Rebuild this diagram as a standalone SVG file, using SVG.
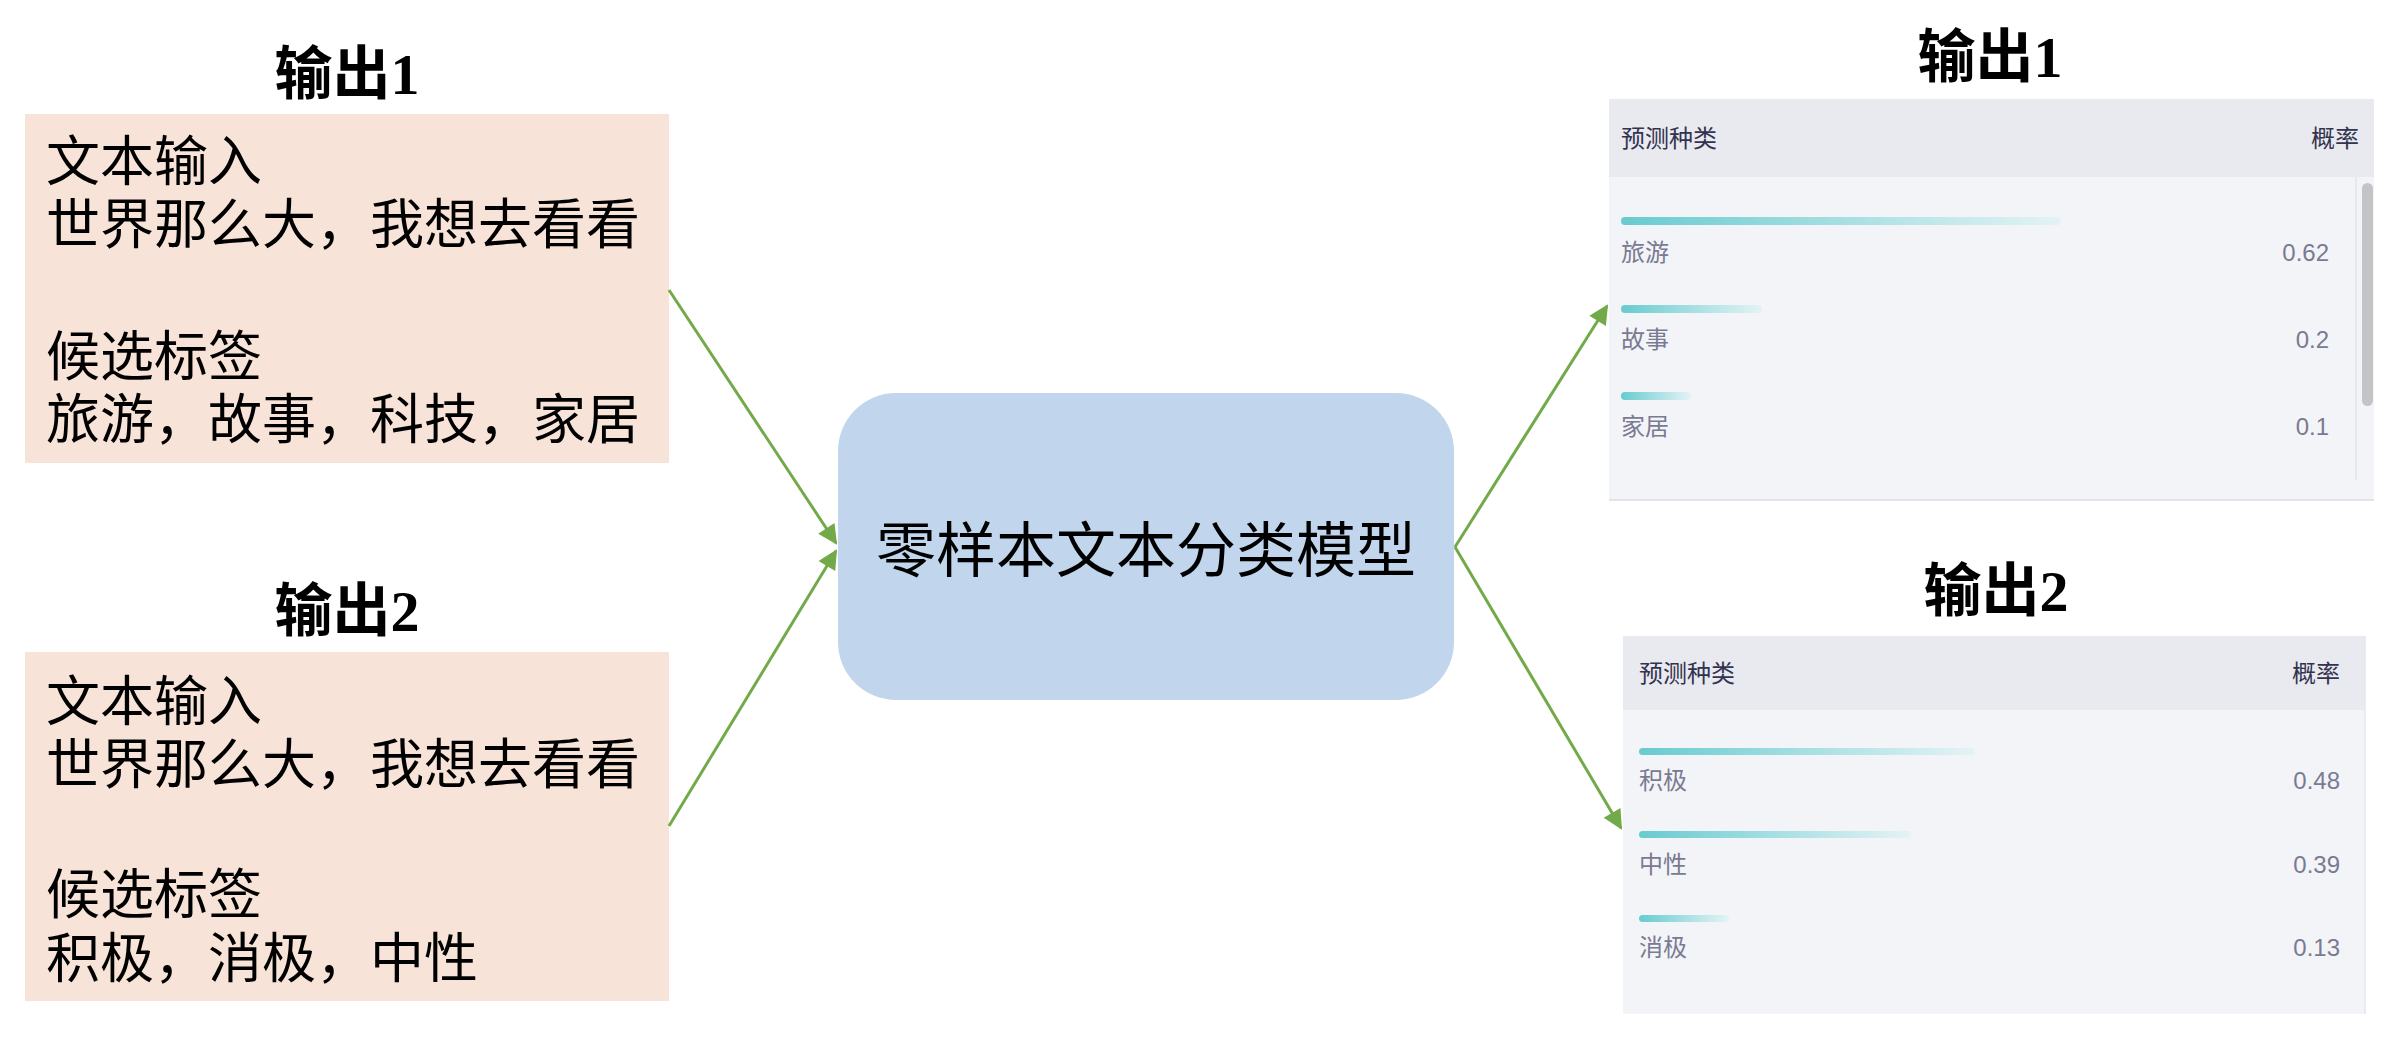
<svg xmlns="http://www.w3.org/2000/svg" width="2392" height="1046" viewBox="0 0 2392 1046">
<style>
.title{font-family:"Liberation Serif","Noto Sans CJK SC",serif;font-weight:bold;font-size:58px;fill:#000;text-anchor:middle}
.body{font-family:"Liberation Serif","Noto Sans CJK SC",serif;font-size:54px;fill:#000}
.center{font-family:"Liberation Serif","Noto Sans CJK SC",serif;font-size:60px;fill:#000;text-anchor:middle}
.hdr{font-family:"Liberation Sans","Noto Sans CJK SC",sans-serif;font-size:24px;fill:#33334f}
.row{font-family:"Liberation Sans","Noto Sans CJK SC",sans-serif;font-size:24px;fill:#7a7a92}
.num{font-family:"Liberation Sans","Noto Sans CJK SC",sans-serif;font-size:24px;fill:#7a7a92;text-anchor:end}
.conn{stroke:#72aa4a;stroke-width:3;fill:none;marker-end:url(#ah)}
</style>
<defs>
<marker id="ah" viewBox="0 0 10 10" refX="9" refY="5" markerWidth="7.5" markerHeight="6.5" markerUnits="strokeWidth" orient="auto">
<path d="M0,0 L10,5 L0,10 z" fill="#72aa4a"/>
</marker>
<linearGradient id="bar" x1="0" y1="0" x2="1" y2="0">
<stop offset="0" stop-color="#68cbcf"/>
<stop offset="1" stop-color="#e4f3f5"/>
</linearGradient>
</defs>
<rect width="2392" height="1046" fill="#fff"/>

<g id="input1">
<text class="title" x="347" y="94">输出1</text>
<rect x="25" y="114" width="644" height="349" fill="#f7e3d7"/>
<text class="body" x="46" y="181">文本输入</text>
<text class="body" x="46" y="244">世界那么大，我想去看看</text>
<text class="body" x="46" y="376">候选标签</text>
<text class="body" x="46" y="439">旅游，故事，科技，家居</text>
</g>

<g id="input2">
<text class="title" x="347" y="631">输出2</text>
<rect x="25" y="652" width="644" height="349" fill="#f7e3d7"/>
<text class="body" x="46" y="721">文本输入</text>
<text class="body" x="46" y="784">世界那么大，我想去看看</text>
<text class="body" x="46" y="914">候选标签</text>
<text class="body" x="46" y="978">积极，消极，中性</text>
</g>

<g id="model">
<rect x="838" y="393" width="616" height="307" rx="58" ry="58" fill="#c1d6ec"/>
<text class="center" x="1146" y="572">零样本文本分类模型</text>
</g>

<g id="output1">
<text class="title" x="1990" y="77">输出1</text>
<rect x="1609" y="99" width="765" height="401" fill="#f3f4f8"/>
<rect x="1609" y="99" width="765" height="78" fill="#e9eaef"/>
<line x1="1609" y1="500" x2="2374" y2="500" stroke="#e2e3e8" stroke-width="2"/>
<line x1="2356" y1="177" x2="2356" y2="480" stroke="#e4e5ea" stroke-width="1.5"/>
<rect x="2362" y="183" width="11" height="223" rx="5.5" fill="#c4c4c7"/>
<text class="hdr" x="1621" y="147">预测种类</text>
<text class="hdr" x="2359" y="147" text-anchor="end">概率</text>
<rect x="1621" y="217" width="440" height="8" rx="4" fill="url(#bar)"/>
<text class="row" x="1621" y="261">旅游</text>
<text class="num" x="2329" y="261">0.62</text>
<rect x="1621" y="305" width="141" height="8" rx="4" fill="url(#bar)"/>
<text class="row" x="1621" y="348">故事</text>
<text class="num" x="2329" y="348">0.2</text>
<rect x="1621" y="392" width="70" height="8" rx="4" fill="url(#bar)"/>
<text class="row" x="1621" y="435">家居</text>
<text class="num" x="2329" y="435">0.1</text>
</g>

<g id="output2">
<text class="title" x="1996" y="611">输出2</text>
<rect x="1623" y="636" width="742" height="378" fill="#f3f4f8"/>
<rect x="1623" y="636" width="742" height="74" fill="#e9eaef"/>
<line x1="2365" y1="636" x2="2365" y2="1014" stroke="#e6e7ec" stroke-width="1.5"/>
<text class="hdr" x="1639" y="682">预测种类</text>
<text class="hdr" x="2340" y="682" text-anchor="end">概率</text>
<rect x="1639" y="748" width="336" height="7" rx="3.5" fill="url(#bar)"/>
<text class="row" x="1639" y="789">积极</text>
<text class="num" x="2340" y="789">0.48</text>
<rect x="1639" y="831" width="272" height="7" rx="3.5" fill="url(#bar)"/>
<text class="row" x="1639" y="873">中性</text>
<text class="num" x="2340" y="873">0.39</text>
<rect x="1639" y="915" width="90" height="7" rx="3.5" fill="url(#bar)"/>
<text class="row" x="1639" y="956">消极</text>
<text class="num" x="2340" y="956">0.13</text>
</g>

<g id="connectors">
<line class="conn" x1="669" y1="290" x2="836" y2="543"/>
<line class="conn" x1="669" y1="826" x2="836" y2="551"/>
<line class="conn" x1="1455" y1="547" x2="1607" y2="306"/>
<line class="conn" x1="1455" y1="547" x2="1621" y2="828"/>
</g>
</svg>
